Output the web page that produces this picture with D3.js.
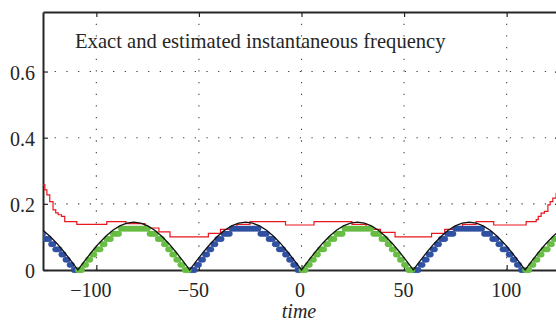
<!DOCTYPE html>
<html><head><meta charset="utf-8">
<script src="https://cdn.jsdelivr.net/npm/d3@7"></script>
<style>body{margin:0;background:#fff;} svg{display:block;}</style>
</head><body>
<svg id="chart" width="556" height="322"></svg>
<script>
// ---- data ----
const xTicks = [-100, -50, 0, 50, 100];
const yTicks = [0, 0.2, 0.4, 0.6];
const titleText = "Exact and estimated instantaneous frequency";
const xLabel = "time";

// exact instantaneous frequency (black)
const exactTime = [-126.03,-122.63,-119.22,-115.81,-112.41,-109,-105.59,-102.19,-98.78,-95.38,-91.97,-88.56,-85.16,-81.75,-78.34,-74.94,-71.53,-68.13,-64.72,-61.31,-57.91,-54.5,-51.09,-47.69,-44.28,-40.88,-37.47,-34.06,-30.66,-27.25,-23.84,-20.44,-17.03,-13.63,-10.22,-6.81,-3.41,0,3.41,6.81,10.22,13.63,17.03,20.44,23.84,27.25,30.66,34.06,37.47,40.88,44.28,47.69,51.09,54.5,57.91,61.31,64.72,68.13,71.53,74.94,78.34,81.75,85.16,88.56,91.97,95.38,98.78,102.19,105.59,109,112.41,115.81,119.22,122.63,126.03];
const exactFreq = [0.1202,0.1022,0.0803,0.0553,0.0282,0,0.0282,0.0553,0.0803,0.1022,0.1202,0.1335,0.1417,0.1445,0.1417,0.1335,0.1202,0.1022,0.0803,0.0553,0.0282,0,0.0282,0.0553,0.0803,0.1022,0.1202,0.1335,0.1417,0.1445,0.1417,0.1335,0.1202,0.1022,0.0803,0.0553,0.0282,0,0.0282,0.0553,0.0803,0.1022,0.1202,0.1335,0.1417,0.1445,0.1417,0.1335,0.1202,0.1022,0.0803,0.0553,0.0282,0,0.0282,0.0553,0.0803,0.1022,0.1202,0.1335,0.1417,0.1445,0.1417,0.1335,0.1202,0.1022,0.0803,0.0553,0.0282,0,0.0282,0.0553,0.0803,0.1022,0.1202];

// estimated frequency (dots), quantised in steps of 1/64, one dot per time unit
const freqStep = 1/64;
const blueStarts = [-126, -54, 55];
const blueLevels = [
  [7,6,6,6,5,5,4,4,4,3,3,2,2,1,1,0,0],
  [0,0,0,1,1,2,2,3,3,4,4,5,5,6,6,6,7,7,7,7,8,8,8,8,8,8,8,8,8,8,8,8,8,8,7,7,7,7,6,6,6,5,5,4,4,4,3,3,2,2,1,1,0,0],
  [0,0,0,1,1,2,2,3,3,4,4,5,5,6,6,6,7,7,7,7,8,8,8,8,8,8,8,8,8,8,8,8,8,8,7,7,7,7,6,6,6,5,5,4,4,4,3,3,2,2,1,1,0,0]
];
const greenStarts = [-109, 0, 109];
const greenLevels = [
  [0,0,0,1,1,2,2,3,3,4,4,4,5,5,6,6,6,7,7,7,7,8,8,8,8,8,8,8,8,8,8,8,8,8,8,7,7,7,7,6,6,6,5,5,4,4,3,3,2,2,1,1,0,0,0],
  [0,0,0,1,1,2,2,3,3,4,4,4,5,5,6,6,6,7,7,7,7,8,8,8,8,8,8,8,8,8,8,8,8,8,8,7,7,7,7,6,6,6,5,5,4,4,3,3,2,2,1,1,0,0,0],
  [0,0,0,1,1,2,2,3,3,4,4,4,5,5,6,6,6,7]
];

// red staircase (value holds from each time to the next)
const redTime = [-126,-125.1,-124.1,-122.7,-121.1,-119.8,-118.6,-117.0,-115.4,-109.5,-94.9,-85.6,-76.3,-69.5,-64.1,-45.4,-39.5,-33.4,-31.5,-25.1,-7.8,6.1,24.6,31.5,33.4,38.5,45.6,63.4,69.8,76.2,78.5,85.1,93.7,109.5,114.4,115.4,116.8,118.4,120.1,121.2,122.5,124.1,126];
const redFreq = [0.258,0.242,0.227,0.207,0.182,0.173,0.167,0.162,0.146,0.138,0.146,0.140,0.127,0.115,0.100,0.111,0.123,0.131,0.138,0.146,0.136,0.146,0.138,0.131,0.123,0.114,0.100,0.111,0.123,0.131,0.138,0.146,0.136,0.146,0.152,0.162,0.172,0.177,0.197,0.207,0.217,0.232,0.258];

// ---- drawing ----
const svg = d3.select("#chart");
const L = 43, R = 560, T = 12, B = 270;
const x = d3.scaleLinear().domain([-126, 126]).range([L, R]);
const y = d3.scaleLinear().domain([0, 0.78]).range([B, T]);
const FONT = "'Liberation Serif','Times New Roman',serif";
const INK = "#262626";

svg.append("rect").attr("width", 556).attr("height", 322).attr("fill", "#fff");
svg.append("defs").append("clipPath").attr("id", "clip")
  .append("rect").attr("x", L).attr("y", 0).attr("width", R - L).attr("height", 322);

// grid
const grid = svg.append("g").attr("stroke", "#444").attr("stroke-width", 1.1)
  .attr("stroke-dasharray", "1.3,10.37").attr("fill", "none");
grid.selectAll("line.v").data(xTicks).join("line").attr("class", "v")
  .attr("x1", d => x(d)).attr("x2", d => x(d)).attr("y1", B).attr("y2", T);
grid.selectAll("line.h").data(yTicks.filter(d => d > 0)).join("line").attr("class", "h")
  .attr("x1", L).attr("x2", R).attr("y1", d => y(d)).attr("y2", d => y(d));

// axes
function styleAxis(g) {
  g.selectAll(".domain").attr("stroke", INK).attr("stroke-width", 2);
  g.selectAll(".tick line").attr("stroke", INK).attr("stroke-width", 1.2);
  g.selectAll("text").attr("font-family", FONT).attr("font-size", 20).attr("fill", INK);
}
const fmtX = d => d < 0 ? "\u2212" + Math.abs(d) : String(d);
const gx = svg.append("g").attr("transform", `translate(0,${B})`)
  .call(d3.axisBottom(x).tickValues(xTicks).tickSize(-5).tickSizeOuter(0).tickPadding(12.8).tickFormat(fmtX));
styleAxis(gx);
gx.selectAll(".tick text").attr("dx", d => d < 0 ? -6 : (d === 0 ? -2 : -1));
const gxt = svg.append("g").attr("transform", `translate(0,${T})`)
  .call(d3.axisTop(x).tickValues(xTicks).tickSize(-5).tickSizeOuter(0).tickFormat(""));
styleAxis(gxt);
const gy = svg.append("g").attr("transform", `translate(${L},0)`)
  .call(d3.axisLeft(y).tickValues(yTicks).tickSize(-5).tickSizeOuter(0).tickPadding(8).tickFormat(d => d === 0 ? "0" : d3.format(".1f")(d)));
styleAxis(gy);
gy.selectAll(".tick text").attr("dy", "0.38em");
const gyr = svg.append("g").attr("transform", `translate(${R},0)`)
  .call(d3.axisRight(y).tickValues(yTicks).tickSize(-5).tickSizeOuter(0).tickFormat(""));
styleAxis(gyr);

// data layer
const plot = svg.append("g").attr("clip-path", "url(#clip)");

const redData = redTime.map((t, i) => ({ t, v: redFreq[i] }));
plot.append("path").datum(redData)
  .attr("fill", "none").attr("stroke", "#e8161e").attr("stroke-width", 1.2)
  .attr("d", d3.line().x(d => x(d.t)).y(d => y(d.v)).curve(d3.curveStepAfter));

function dotsFrom(starts, levels) {
  const out = [];
  starts.forEach((s, i) => levels[i].forEach((lv, j) => out.push({ t: s + j, v: lv * freqStep })));
  return out;
}
const blueDots = dotsFrom(blueStarts, blueLevels);
const greenDots = dotsFrom(greenStarts, greenLevels);

plot.append("g").selectAll("circle").data(blueDots).join("circle")
  .attr("cx", d => x(d.t)).attr("cy", d => y(d.v)).attr("r", 2.7)
  .attr("fill", "#3153a5").attr("stroke", "#2a4896").attr("stroke-width", 0.5);
plot.append("g").selectAll("circle").data(greenDots).join("circle")
  .attr("cx", d => x(d.t)).attr("cy", d => y(d.v)).attr("r", 2.7)
  .attr("fill", "#6abf45").attr("stroke", "#5db33a").attr("stroke-width", 0.5);

const exactData = exactTime.map((t, i) => ({ t, v: exactFreq[i] }));
plot.append("path").datum(exactData)
  .attr("fill", "none").attr("stroke", "#111").attr("stroke-width", 1.3)
  .attr("d", d3.line().x(d => x(d.t)).y(d => y(d.v)));

// title and label
svg.append("text").attr("x", 75).attr("y", 48)
  .attr("font-family", FONT).attr("font-size", 20.6).attr("fill", INK).text(titleText);
svg.append("text").attr("x", 299).attr("y", 318).attr("text-anchor", "middle")
  .attr("font-family", FONT).attr("font-style", "italic").attr("font-size", 20).attr("fill", INK).text(xLabel);
</script>
</body></html>
